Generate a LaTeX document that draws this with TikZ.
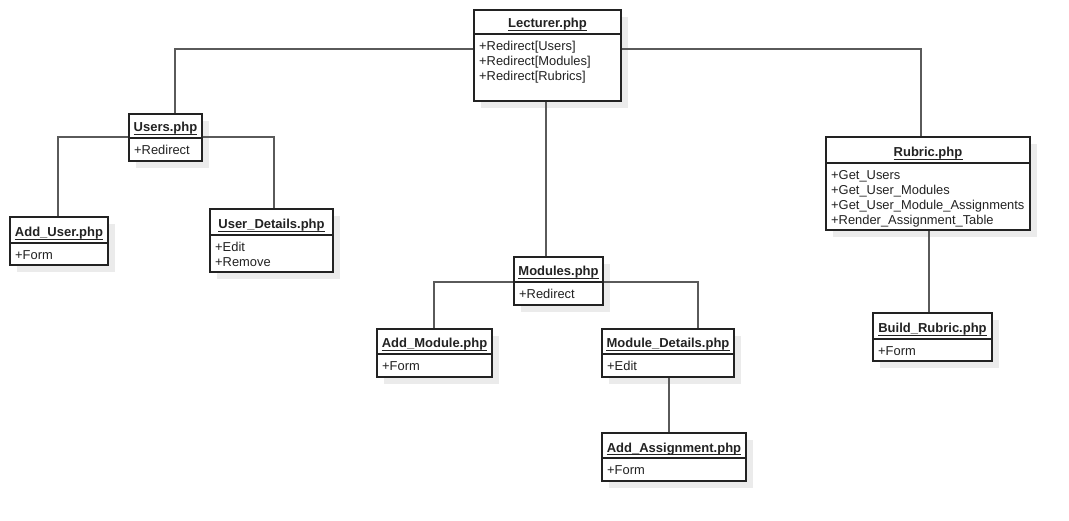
\documentclass[tikz,border=0pt]{standalone}
\usepackage{fontspec}
\setmainfont{Liberation Sans}
\usetikzlibrary{fit}

\definecolor{edge}{HTML}{222222}
\definecolor{wire}{HTML}{5A5A5A}
\definecolor{shadowgray}{HTML}{EBEBEB}
\definecolor{txt}{HTML}{222222}

\tikzset{
  classbox/.style={draw=edge, line width=1.3pt, inner sep=0pt, fill=white},
  divider/.style={draw=edge, line width=1.1pt},
  wirestyle/.style={draw=wire, line width=1.6pt},
  shadowbox/.style={fill=shadowgray},
  titletext/.style={anchor=base, inner sep=0pt, text=txt,
    font=\fontsize{13}{15}\selectfont\bfseries},
  titlerule/.style={draw=txt, line width=1pt},
  membertext/.style={anchor=north west, inner sep=0pt, align=left, text=txt,
    font=\fontsize{12.9}{15}\selectfont},
}

% UML class box: name, left, top, right, divider y, bottom, title, members
\newcommand{\umlclass}[8]{%
  \fill[shadowbox] (#2+7,#3+7) rectangle (#4+7,#6+7);
  \node[classbox, fit={(#2,#3) (#4,#6)}] (#1) {};
  \draw[divider] (#2,#5) -- (#4,#5);
  \node[titletext] (#1-title) at ({(#2+#4)/2},#5-6) {#7};
  \draw[titlerule] ([yshift=-2.6pt]#1-title.base west) -- ([yshift=-2.6pt]#1-title.base east);
  \node[membertext] (#1-body) at (#2+5,#5+6) {\rule{0pt}{10pt}#8};
}

\begin{document}
\begin{tikzpicture}[x=1pt, y=-1pt]
  \useasboundingbox[fill=white] (0,0) rectangle (1069,521);

  \umlclass{lect}{474}{10}{621}{34}{101}{Lecturer.php}
    {+Redirect[Users]\\+Redirect[Modules]\\+Redirect[Rubrics]}
  \umlclass{users}{129}{114}{202}{138}{161}{Users.php}{+Redirect}
  \umlclass{adduser}{10}{217}{108}{243}{265}{Add\_User.php}{+Form}
  \umlclass{userdet}{210}{209}{333}{235}{272}{User\_Details.php}{+Edit\\+Remove}
  \umlclass{modules}{514}{257}{603}{282}{305}{Modules.php}{+Redirect}
  \umlclass{addmod}{377}{329}{492}{354}{377}{Add\_Module.php}{+Form}
  \umlclass{moddet}{602}{329}{734}{354}{377}{Module\_Details.php}{+Edit}
  \umlclass{addassign}{602}{433}{746}{458}{481}{Add\_Assignment.php}{+Form}
  \umlclass{rubric}{826}{137}{1030}{163}{230}{Rubric.php}
    {+Get\_Users\\+Get\_User\_Modules\\+Get\_User\_Module\_Assignments\\+Render\_Assignment\_Table}
  \umlclass{build}{873}{313}{992}{339}{361}{Build\_Rubric.php}{+Form}

  % connector bends
  \coordinate (jUsers)   at (175,49);
  \coordinate (jRubric)  at (921,49);
  \coordinate (jMods)    at (546,180);
  \coordinate (jAddUser) at (58,137);
  \coordinate (jUserDet) at (274,137);
  \coordinate (jAddMod)  at (434,282);
  \coordinate (jModDet)  at (698,282);
  \coordinate (jAssign)  at (669,400);
  \coordinate (jBuild)   at (929,270);

  \draw[wirestyle] (lect.west |- jUsers) -- (jUsers) -- (users.north -| jUsers);
  \draw[wirestyle] (lect.east |- jRubric) -- (jRubric) -- (rubric.north -| jRubric);
  \draw[wirestyle] (lect.south -| jMods) -- (modules.north -| jMods);
  \draw[wirestyle] (users.west |- jAddUser) -- (jAddUser) -- (adduser.north -| jAddUser);
  \draw[wirestyle] (users.east |- jUserDet) -- (jUserDet) -- (userdet.north -| jUserDet);
  \draw[wirestyle] (modules.west |- jAddMod) -- (jAddMod) -- (addmod.north -| jAddMod);
  \draw[wirestyle] (modules.east |- jModDet) -- (jModDet) -- (moddet.north -| jModDet);
  \draw[wirestyle] (moddet.south -| jAssign) -- (addassign.north -| jAssign);
  \draw[wirestyle] (rubric.south -| jBuild) -- (build.north -| jBuild);
\end{tikzpicture}
\end{document}
